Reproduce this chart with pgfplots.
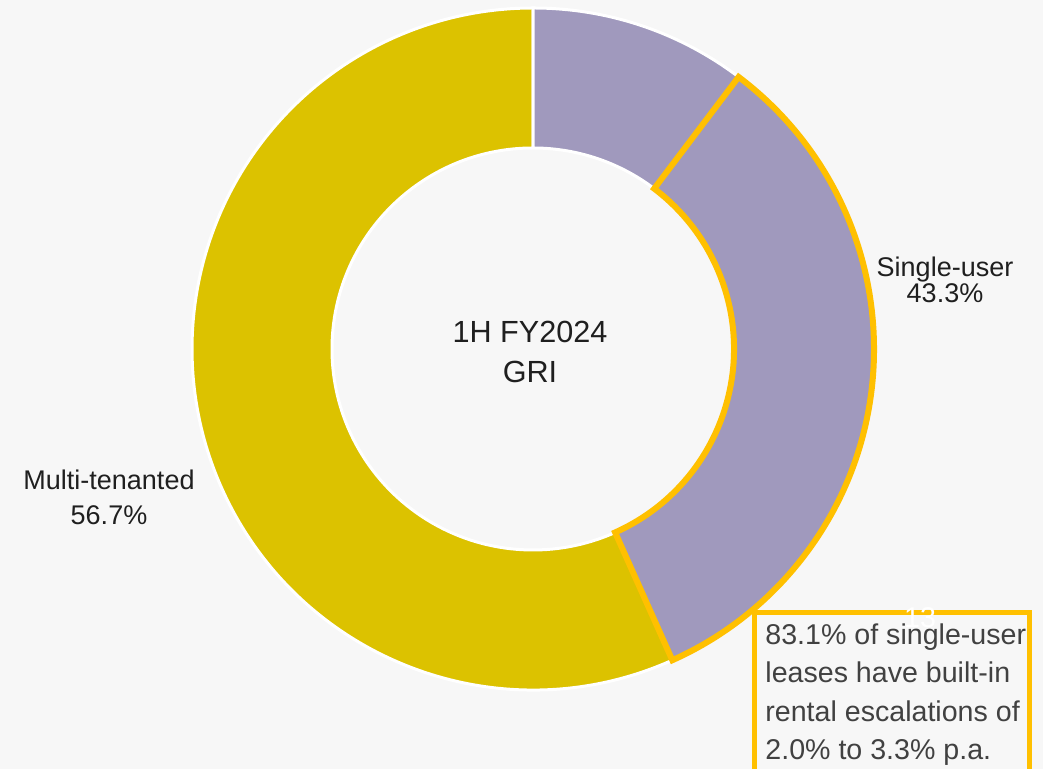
\documentclass[border=0pt]{standalone}
\usepackage{pgfplots}
\pgfplotsset{compat=1.18}
\usepackage{pgfplotstable}
\usepackage{fontspec}
\setmainfont{Liberation Sans}

\definecolor{bg}{HTML}{F7F7F7}
\definecolor{suser}{HTML}{A099BD}
\definecolor{multi}{HTML}{DCC200}
\definecolor{hl}{HTML}{FFC000}
\definecolor{txt}{HTML}{1F1F1F}

% share of 1H FY2024 GRI, % (escal = highlighted part of single-user arc)
\pgfplotstableread{
segment share
single  43.3
multi   56.7
escal   33.0
}\gri

\def\rin{100.5pt}
\def\rout{170.5pt}
% #1 style, #2 start angle, #3 end angle
\newcommand\sector[3]{\path[#1] ([shift={(#2:\rout)}]O) arc[start angle=#2,end angle=#3,radius=\rout]
  -- ([shift={(#3:\rin)}]O) arc[start angle=#3,end angle=#2,radius=\rin] -- cycle;}

\begin{document}
\begin{tikzpicture}
\pgfplotstablegetelem{0}{share}\of\gri \let\sSingle\pgfplotsretval
\pgfplotstablegetelem{2}{share}\of\gri \let\sEsc\pgfplotsretval
\pgfmathsetmacro\aA{90-3.6*\sSingle}
\pgfmathsetmacro\aH{\aA+3.6*\sEsc}
\begin{axis}[
    x=0.5pt, y=0.5pt,
    xmin=0, xmax=1043, ymin=0, ymax=769,
    hide axis,
]
\coordinate (SW) at (axis cs:0,0);
\coordinate (NE) at (axis cs:1043,769);
\fill[bg] (SW) rectangle (NE);
\coordinate (O) at (axis cs:533,420);

\sector{fill=multi, draw=white, line width=1.5pt}{\aA}{-270}
\sector{fill=suser, draw=white, line width=1.5pt}{90}{\aA}
\sector{draw=hl, line width=3pt, line join=miter}{\aH}{\aA}

\begin{scope}[every node/.style={font=\fontsize{13.5}{16}\selectfont, text=txt, anchor=base, inner sep=0pt}]
\node at (axis cs:945,492) {Single-user};
\node at (axis cs:945,466) {43.3\%};
\node at (axis cs:109,279) {Multi-tenanted};
\node at (axis cs:109,244) {56.7\%};
\end{scope}
\begin{scope}[every node/.style={font=\fontsize{15.3}{18}\selectfont, text=txt, anchor=base, inner sep=0pt}]
\node at (axis cs:530,426) {1H FY2024};
\node at (axis cs:530,386) {GRI};
\end{scope}

\draw[hl, line width=2.5pt, fill=bg] (axis cs:754,156) rectangle (axis cs:1029,-20);
\begin{scope}[every node/.style={font=\fontsize{14.3}{17}\selectfont, text=txt!85, anchor=base west, inner sep=0pt}]
\node at (axis cs:765,124) {83.1\% of single-user};
\node at (axis cs:765,86) {leases have built-in};
\node at (axis cs:765,47) {rental escalations of};
\node at (axis cs:765,9) {2.0\% to 3.3\% p.a.};
\end{scope}
\node[font=\fontsize{14.3}{17}\selectfont, text=white, anchor=base, inner sep=0pt] at (axis cs:920,141) {13};
\end{axis}
\pgfresetboundingbox
\useasboundingbox (SW) rectangle (NE);
\end{tikzpicture}
\end{document}
